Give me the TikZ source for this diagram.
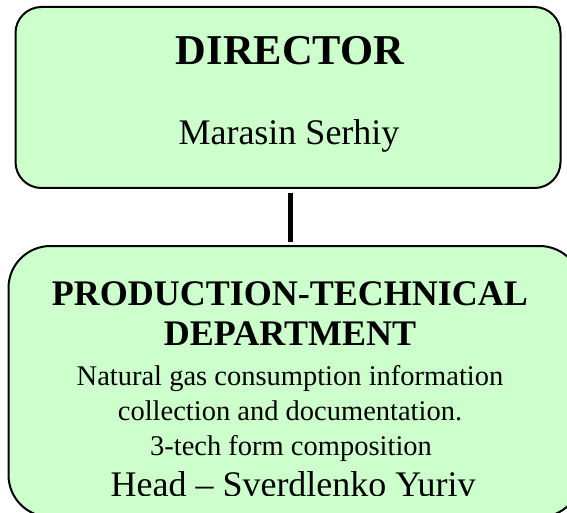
\documentclass[tikz,border=0pt]{standalone}
\usepackage{fontspec}
\setmainfont{Liberation Serif}
\definecolor{boxgreen}{HTML}{CCFFCC}
\tikzset{
  orgbox/.style={draw=black, line width=2pt, fill=boxgreen, inner sep=0pt},
  label/.style={inner sep=0pt, anchor=base, text=black},
  link/.style={line width=5.5pt, black},
}
\newcommand{\fs}[1]{\fontsize{#1}{#1}\selectfont}
\begin{document}
\begin{tikzpicture}[x=1pt, y=-1pt]
  \useasboundingbox (0,0) rectangle (567,513);
  \clip (0,0) rectangle (567,513);
  \fill[white] (0,0) rectangle (567,513);

  % director box
  \node[orgbox, minimum width=545pt, minimum height=181pt, rounded corners=26pt]
    (dir) at (288,97.5) {};
  \node[label] (dirtitle) at (290,65) {\fs{42.5}\bfseries DIRECTOR};
  \node[label] (dirname) at (289,145) {\fs{36}Marasin Serhiy};

  % production-technical department box
  \node[orgbox, minimum width=573pt, minimum height=271pt, rounded corners=42pt]
    (ptd) at (295,381.5) {};
  \node[label] (ptdtitle1) at (290,305) {\fs{36}\bfseries PRODUCTION-TECHNICAL};
  \node[label] (ptdtitle2) at (290,345) {\fs{36}\bfseries DEPARTMENT};
  \node[label] (ptdline1) at (290,385) {\fs{28.5}Natural gas consumption information};
  \node[label] (ptdline2) at (290,420) {\fs{28.5}collection and documentation.};
  \node[label] (ptdline3) at (291,455) {\fs{28.5}3-tech form composition};
  % the last line runs past the text frame and is cut at its foot
  \begin{scope}
    \clip (0,0) rectangle (567,495.5);
    \node[label] (ptdhead) at (293,496.5) {\fs{36}Head – Sverdlenko Yuriv};
  \end{scope}

  % connector
  \coordinate (linktop) at (290.5,193);
  \coordinate (linkbot) at (290.5,242);
  \draw[link] (linktop) -- (linkbot);
\end{tikzpicture}
\end{document}
